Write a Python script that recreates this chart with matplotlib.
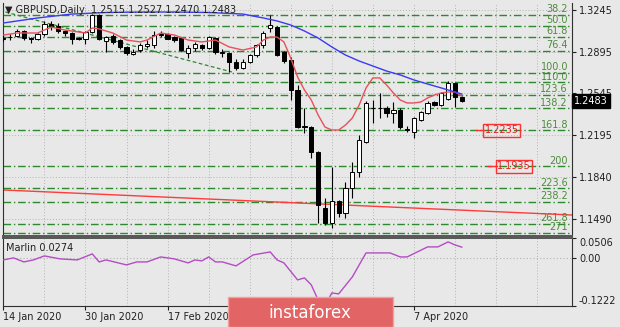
import matplotlib
matplotlib.use('Agg')
import matplotlib.pyplot as plt
import matplotlib.patches as mpatches
from matplotlib.transforms import blended_transform_factory
import numpy as np

# ---------------- data ----------------
xtick_idx = [0, 12, 24, 36, 48, 60]
# the 4 Mar / 20 Mar labels sit under the logo in the reference, so they stay empty
xtick_labels = ['14 Jan 2020', '30 Jan 2020', '17 Feb 2020', '', '', '7 Apr 2020']

opens = [
    1.3012, 1.3015, 1.3030, 1.3070, 1.3010, 1.3000, 1.3040, 1.3130, 1.3110, 1.3070,
    1.3050, 1.3010, 1.3005, 1.3060, 1.3200, 1.2985, 1.3030, 1.2995, 1.2935, 1.2880,
    1.2910, 1.2945, 1.2951, 1.3040, 1.3043, 1.3018, 1.3010, 1.2885, 1.2926, 1.2951,
    1.2926, 1.3010, 1.2893, 1.2884, 1.2809, 1.2758, 1.2809, 1.2867, 1.2951, 1.3095,
    1.3100, 1.2890, 1.2826, 1.2570, 1.2270, 1.2263, 1.2054, 1.1584, 1.1458, 1.1640,
    1.1542, 1.1752, 1.1886, 1.2138, 1.2423, 1.2420, 1.2423, 1.2381, 1.2406, 1.2245,
    1.2221, 1.2322, 1.2381, 1.2473, 1.2448, 1.2498, 1.2633, 1.2515]
highs = [
    1.3045, 1.3040, 1.3085, 1.3080, 1.3020, 1.3050, 1.3150, 1.3150, 1.3140, 1.3080,
    1.3060, 1.3020, 1.3070, 1.3210, 1.3210, 1.3030, 1.3045, 1.3000, 1.2945, 1.2920,
    1.2965, 1.2990, 1.3070, 1.3070, 1.3050, 1.3030, 1.3020, 1.2951, 1.2980, 1.2960,
    1.3025, 1.3020, 1.2920, 1.2890, 1.2830, 1.2830, 1.2880, 1.2960, 1.3065, 1.3200,
    1.3110, 1.2900, 1.2850, 1.2616, 1.2423, 1.2270, 1.2060, 1.1668, 1.1928, 1.1650,
    1.1802, 1.1970, 1.2200, 1.2485, 1.2490, 1.2549, 1.2440, 1.2473, 1.2420, 1.2270,
    1.2350, 1.2400, 1.2480, 1.2480, 1.2560, 1.2650, 1.2645, 1.2527]
lows = [
    1.2985, 1.2990, 1.3020, 1.2995, 1.2968, 1.2990, 1.3030, 1.3080, 1.3050, 1.3030,
    1.2960, 1.2990, 1.2960, 1.3050, 1.2990, 1.2895, 1.2960, 1.2920, 1.2870, 1.2870,
    1.2890, 1.2930, 1.2930, 1.3020, 1.3000, 1.2980, 1.2900, 1.2842, 1.2900, 1.2910,
    1.2915, 1.2880, 1.2850, 1.2725, 1.2745, 1.2750, 1.2800, 1.2850, 1.2930, 1.3060,
    1.2860, 1.2800, 1.2490, 1.2255, 1.2213, 1.2003, 1.1458, 1.1441, 1.1416, 1.1508,
    1.1500, 1.1668, 1.1840, 1.2130, 1.2300, 1.2339, 1.2350, 1.2297, 1.2245, 1.2220,
    1.2171, 1.2310, 1.2370, 1.2440, 1.2440, 1.2490, 1.2431, 1.2470]
closes = [
    1.3002, 1.3018, 1.3070, 1.3010, 1.3005, 1.3040, 1.3130, 1.3110, 1.3070, 1.3050,
    1.3000, 1.3000, 1.3060, 1.3200, 1.3000, 1.3015, 1.2980, 1.2935, 1.2885, 1.2895,
    1.2950, 1.2960, 1.3035, 1.3035, 1.3002, 1.2993, 1.2909, 1.2926, 1.2960, 1.2926,
    1.3018, 1.2893, 1.2884, 1.2809, 1.2758, 1.2809, 1.2867, 1.2951, 1.3052, 1.3115,
    1.2867, 1.2815, 1.2574, 1.2263, 1.2262, 1.2054, 1.1609, 1.1458, 1.1642, 1.1542,
    1.1752, 1.1886, 1.2154, 1.2465, 1.2420, 1.2425, 1.2381, 1.2406, 1.2263, 1.2238,
    1.2339, 1.2389, 1.2465, 1.2448, 1.2549, 1.2633, 1.2515, 1.2483]

red_ma_idx = [0, 2, 5, 7, 9, 12, 13, 14, 16, 18, 20, 21, 23, 25, 27, 29, 31, 33, 35, 37,
              38, 39, 40, 41, 42, 43, 44, 45, 46, 47, 48, 49, 50, 51, 52, 53, 54, 55, 56, 57,
              58, 59, 60, 61, 62, 63, 64, 65, 66, 67]
red_ma_val = [1.3035, 1.3052, 1.3052, 1.3102, 1.3077, 1.3052, 1.3094, 1.3086, 1.3052, 1.2993,
              1.2977, 1.2993, 1.3052, 1.3035, 1.2993, 1.2977, 1.2993, 1.2935, 1.2909, 1.2935,
              1.2993, 1.3018, 1.3018, 1.2977, 1.2842, 1.2683, 1.2574, 1.2490, 1.2364, 1.2263,
              1.2238, 1.2238, 1.2280, 1.2339, 1.2448, 1.2591, 1.2675, 1.2675, 1.2616, 1.2549,
              1.2490, 1.2465, 1.2465, 1.2473, 1.2507, 1.2532, 1.2549, 1.2557, 1.2557, 1.2524]

blue_ma_idx = [0, 5, 10, 15, 20, 25, 30, 35, 38, 40, 42, 44, 46, 48, 50, 52, 54, 56, 58, 60,
               62, 64, 66, 67]
blue_ma_val = [1.3136, 1.3178, 1.3211, 1.3224, 1.3228, 1.3228, 1.3224, 1.3211, 1.3178, 1.3153,
               1.3119, 1.3069, 1.3010, 1.2935, 1.2867, 1.2817, 1.2775, 1.2733, 1.2700, 1.2658,
               1.2624, 1.2591, 1.2557, 1.2540]

fib_labels = ['38.2', '50.0', '61.8', '76.4', '100.0', '110.0', '123.6', '138.2',
              '161.8', '200', '223.6', '238.2', '261.8', '271']
fib_prices = [1.3205, 1.3112, 1.3020, 1.2905, 1.2720, 1.2641, 1.2535, 1.2420,
              1.2235, 1.1935, 1.1750, 1.1635, 1.1450, 1.1378]

target_labels = ['1.2235', '1.1935']
target_prices = [1.2235, 1.1935]
target_idx = [72.8, 74.6]

trend_idx = [0.3, 33.4]
trend_val = [1.3228, 1.2725]
channel_idx = [0.0, 83.1]
channel_val = [1.1735, 1.1525]

marlin_idx = [0, 1.5, 3, 4.4, 6, 8.3, 10.8, 13, 14, 15, 18, 19.5, 21, 23, 25, 27, 28, 29, 30, 31,
              32, 34, 36.5, 39, 40, 41, 43, 44, 45, 46, 47, 48, 49, 51, 53, 54.5, 56.5, 58, 59, 60.5,
              62, 63.5, 65, 66, 67]
marlin_val = [-0.0051, 0.0000, -0.0102, -0.0051, 0.0051, -0.0025, -0.0051, 0.0102, -0.0102, -0.0051,
              -0.0178, -0.0102, -0.0102, 0.0025, -0.0025, -0.0127, -0.0051, -0.0076, 0.0025, -0.0102,
              -0.0102, -0.0203, 0.0076, 0.0152, -0.0051, -0.0127, -0.0559, -0.0508, -0.0686, -0.1067,
              -0.1222, -0.0889, -0.0915, -0.0483, 0.0127, 0.0127, 0.0127, 0.0025, 0.0025, 0.0152,
              0.0280, 0.0280, 0.0407, 0.0330, 0.0274]

price_ticks = [1.3245, 1.2895, 1.2545, 1.2195, 1.1840, 1.1490]
marlin_ticks = [0.0506, 0.0, -0.1222]
marlin_tick_labels = ['0.0506', '0.00', '-0.1222']

last_price = 1.2483
header = '\u25bc GBPUSD,Daily  1.2515 1.2527 1.2470 1.2483'
marlin_title = 'Marlin 0.0274'

# ---------------- styling ----------------
BG = '#e8e8e8'
FIB = '#2b8a2b'
FIBTXT = '#4c8c3c'
GRID = '#b4b4b4'
TXT = '#202020'
plt.rcParams['font.family'] = ['DejaVu Sans']

W, H = 620, 327
def fx(px):
    return px / W
def fy(py):
    return 1 - py / H

fig = plt.figure(figsize=(6.2, 3.27), dpi=100, facecolor=BG)
ax = fig.add_axes([fx(3), fy(236), fx(572) - fx(3), fy(3) - fy(236)], facecolor=BG)
axm = fig.add_axes([fx(3), fy(306), fx(572) - fx(3), fy(238) - fy(306)], facecolor=BG)

XMIN, XMAX = -0.05, 83.1
for a in (ax, axm):
    a.set_xlim(XMIN, XMAX)
    for g in range(6, 84, 6):
        a.axvline(g, color=GRID, lw=0.7, ls=(0, (1, 2)), zorder=1)

ax.set_ylim(1.13489, 1.33037)
axm.set_ylim(-0.1222, 0.0506)

# horizontal grid
for p in price_ticks:
    ax.axhline(p, color=GRID, lw=0.7, ls=(0, (1, 2)), zorder=1)
axm.axhline(0, color=GRID, lw=0.8, ls=(0, (1, 2)), zorder=1)

# fib levels
trans = blended_transform_factory(ax.transAxes, ax.transData)
for lab, p in zip(fib_labels, fib_prices):
    ax.axhline(p, color=FIB, lw=1.0, ls=(0, (5.5, 2, 1, 2)), zorder=2)
    ax.text(0.993, p + 0.0004, lab, transform=trans, ha='right', va='bottom',
            fontsize=7, color=FIBTXT, zorder=6)

# trend lines
ax.plot(trend_idx, trend_val, color=FIB, lw=0.9, ls=(0, (3, 2)), zorder=2)
ax.plot(channel_idx, channel_val, color='#ff3b3b', lw=1.0, zorder=2)

# candles
idx = np.arange(len(closes))
o = np.array(opens)
c = np.array(closes)
bottoms = np.minimum(o, c)
heights = np.maximum(np.abs(c - o), 0.0001)
cols = ['white' if cc >= oo else 'black' for oo, cc in zip(o, c)]
ax.vlines(idx, lows, highs, color='black', lw=0.8, zorder=3)
ax.bar(idx, heights, bottom=bottoms, width=0.62, color=cols, edgecolor='black',
       linewidth=0.7, zorder=4)

# moving averages
ax.plot(red_ma_idx, red_ma_val, color='#e8505a', lw=1.0, zorder=5)
ax.plot(blue_ma_idx, blue_ma_val, color='#3a3af5', lw=1.0, zorder=5)

# target labels
for lab, p, xi in zip(target_labels, target_prices, target_idx):
    ax.plot([xi - 3.8, xi - 2.5], [p, p], color='#ff3030', lw=1.0, zorder=6)
    ax.text(xi, p, lab, ha='center', va='center', fontsize=7, color='#e02020', zorder=7,
            bbox=dict(boxstyle='square,pad=0.15', fc='none', ec='#ff3030', lw=1.0))

# header
ax.text(0.0035, 0.968, header, transform=ax.transAxes, ha='left', va='center',
        fontsize=7, color=TXT, zorder=8)

# price axis
ax.yaxis.tick_right()
ax.set_yticks(price_ticks)
ax.set_yticklabels(['%.4f' % p for p in price_ticks])
ax.tick_params(axis='y', direction='out', length=3, width=0.8, pad=2, labelsize=7,
               colors=TXT)
ax.set_xticks([])
ax.text(1.0035, last_price, '%.4f' % last_price, transform=trans, ha='left', va='center',
        fontsize=7, color='white', zorder=10, clip_on=False,
        bbox=dict(boxstyle='square,pad=0.22', fc='black', ec='black'))

for s in ('left', 'right'):
    ax.spines[s].set_color('#303030')
    ax.spines[s].set_linewidth(0.8)
ax.spines['top'].set_visible(False)
ax.spines['bottom'].set_color('#555555')
ax.spines['bottom'].set_linewidth(1.4)

# indicator
axm.plot(marlin_idx, marlin_val, color='#b44cc4', lw=1.0, zorder=5)
axm.text(0.005, 0.86, marlin_title, transform=axm.transAxes, ha='left', va='center',
         fontsize=7, color=TXT, zorder=8)
axm.yaxis.tick_right()
axm.set_yticks(marlin_ticks)
axm.set_yticklabels(marlin_tick_labels)
axm.tick_params(axis='y', direction='out', length=3, width=0.8, pad=2, labelsize=7,
                colors=TXT)
yl = axm.get_yticklabels()
yl[0].set_va('top')
yl[2].set_va('bottom')
axm.set_xticks(xtick_idx)
axm.set_xticklabels(xtick_labels)
axm.tick_params(axis='x', direction='out', length=3, width=0.8, pad=1, labelsize=7,
                colors=TXT)
for t in axm.get_xticklabels():
    t.set_ha('left')
for s in ('left', 'right', 'bottom'):
    axm.spines[s].set_color('#303030')
    axm.spines[s].set_linewidth(0.8)
axm.spines['top'].set_color('#555555')
axm.spines['top'].set_linewidth(1.4)

# logo
fig.patches.append(mpatches.Rectangle((fx(228), 0), fx(393) - fx(228), fy(297),
                                      transform=fig.transFigure, fc='#e26464',
                                      ec='#f3a0a0', lw=1, zorder=20))
fig.text(fx(310), fy(313), 'instaforex', color='white', fontsize=12,
         ha='center', va='center', zorder=21)

fig.savefig('out.png', dpi=100, facecolor=BG)
